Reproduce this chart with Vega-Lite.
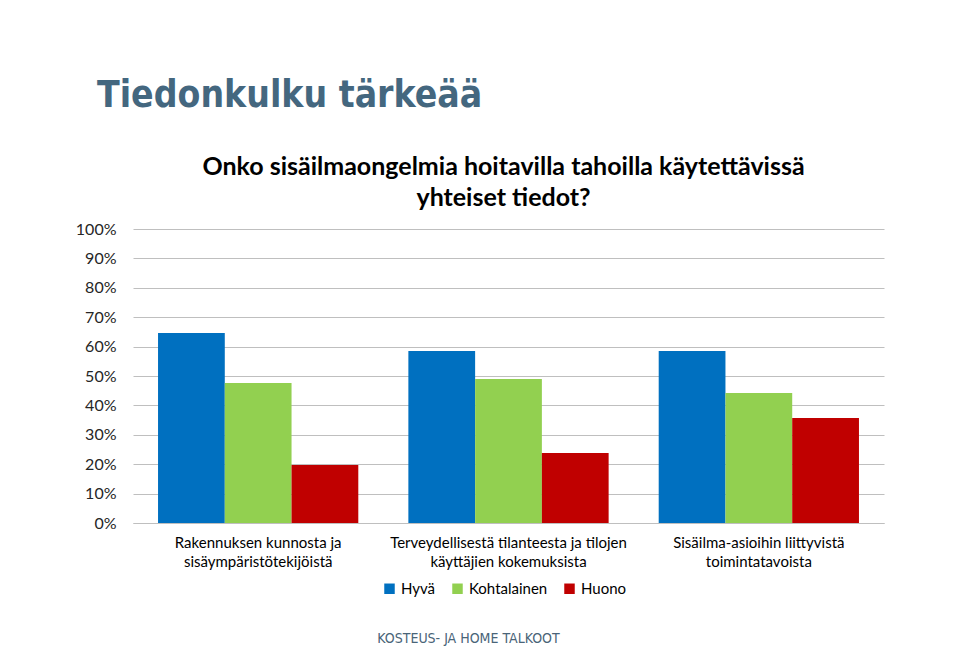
{
  "$schema": "https://vega.github.io/schema/vega-lite/v6.json",
  "autosize": "none",
  "width": 751,
  "height": 294,
  "padding": {"left": 133, "top": 229, "right": 76, "bottom": 143},
  "background": "white",
  "title": {
    "text": "Tiedonkulku tärkeää",
    "anchor": "start",
    "frame": "group",
    "orient": "top",
    "dx": -36,
    "dy": 0,
    "font": "DejaVu Sans Condensed",
    "fontWeight": "bold",
    "fontSize": 37,
    "color": "#44677F",
    "baseline": "alphabetic",
    "offset": 10
  },
  "data": {
    "values": [
      {"aihe": "Rakennuksen kunnosta ja sisäympäristötekijöistä", "arvio": "Hyvä", "osuus": 0.646},
      {"aihe": "Rakennuksen kunnosta ja sisäympäristötekijöistä", "arvio": "Kohtalainen", "osuus": 0.476},
      {"aihe": "Rakennuksen kunnosta ja sisäympäristötekijöistä", "arvio": "Huono", "osuus": 0.197},
      {"aihe": "Terveydellisestä tilanteesta ja tilojen käyttäjien kokemuksista", "arvio": "Hyvä", "osuus": 0.585},
      {"aihe": "Terveydellisestä tilanteesta ja tilojen käyttäjien kokemuksista", "arvio": "Kohtalainen", "osuus": 0.490},
      {"aihe": "Terveydellisestä tilanteesta ja tilojen käyttäjien kokemuksista", "arvio": "Huono", "osuus": 0.238},
      {"aihe": "Sisäilma-asioihin liittyvistä toimintatavoista", "arvio": "Hyvä", "osuus": 0.585},
      {"aihe": "Sisäilma-asioihin liittyvistä toimintatavoista", "arvio": "Kohtalainen", "osuus": 0.442},
      {"aihe": "Sisäilma-asioihin liittyvistä toimintatavoista", "arvio": "Huono", "osuus": 0.357}
    ]
  },
  "mark": {"type": "bar"},
  "encoding": {
    "x": {
      "field": "aihe",
      "type": "nominal",
      "sort": null,
      "scale": {"paddingInner": 0.2, "paddingOuter": 0.1},
      "axis": {
        "title": "KOSTEUS- JA HOME TALKOOT",
        "titleX": 335,
        "titleY": 115,
        "titleAlign": "center",
        "titleBaseline": "middle",
        "titleFont": "DejaVu Sans Condensed",
        "titleFontWeight": "normal",
        "titleFontSize": 14,
        "titleColor": "#4A6478",
        "labelAngle": 0,
        "labelFont": "Lato",
        "labelFontSize": 15,
        "labelColor": "#000000",
        "labelPadding": 12,
        "labelLineHeight": 19,
        "labelLimit": 400,
        "labelExpr": "datum.label == 'Rakennuksen kunnosta ja sisäympäristötekijöistä' ? ['Rakennuksen kunnosta ja', 'sisäympäristötekijöistä'] : datum.label == 'Terveydellisestä tilanteesta ja tilojen käyttäjien kokemuksista' ? ['Terveydellisestä tilanteesta ja tilojen', 'käyttäjien kokemuksista'] : ['Sisäilma-asioihin liittyvistä', 'toimintatavoista']",
        "ticks": false,
        "domainColor": "#BFBFBF",
        "domainWidth": 1
      }
    },
    "xOffset": {"field": "arvio", "type": "nominal", "sort": ["Hyvä", "Kohtalainen", "Huono"], "scale": {"paddingInner": 0, "paddingOuter": 0}},
    "y": {
      "field": "osuus",
      "type": "quantitative",
      "scale": {"domain": [0, 1], "nice": false},
      "axis": {
        "values": [0, 0.1, 0.2, 0.3, 0.4, 0.5, 0.6, 0.7, 0.8, 0.9, 1],
        "format": ".0%",
        "title": ["Onko sisäilmaongelmia hoitavilla tahoilla käytettävissä", "yhteiset tiedot?"],
        "titleAngle": 0,
        "titleX": 370,
        "titleY": -55,
        "titleAlign": "center",
        "titleBaseline": "alphabetic",
        "titleFont": "Lato",
        "titleFontWeight": "bold",
        "titleFontSize": 25,
        "titleLineHeight": 31,
        "titleColor": "#000000",
        "labelFont": "Lato",
        "labelFontSize": 16,
        "labelColor": "#262626",
        "labelPadding": 17,
        "ticks": false,
        "domain": false,
        "gridColor": "#BFBFBF",
        "gridWidth": 1
      }
    },
    "color": {
      "field": "arvio",
      "type": "nominal",
      "sort": ["Hyvä", "Kohtalainen", "Huono"],
      "scale": {"domain": ["Hyvä", "Kohtalainen", "Huono"], "range": ["#0070C0", "#92D050", "#C00000"]},
      "legend": {
        "title": null,
        "orient": "none",
        "direction": "horizontal",
        "legendX": 249,
        "legendY": 352,
        "symbolType": "square",
        "symbolSize": 110,
        "symbolStrokeWidth": 0,
        "labelFont": "Lato",
        "labelFontSize": 15,
        "labelColor": "#000000",
        "columnPadding": 14,
        "labelOffset": 4
      }
    }
  },
  "config": {"view": {"stroke": null}}
}
